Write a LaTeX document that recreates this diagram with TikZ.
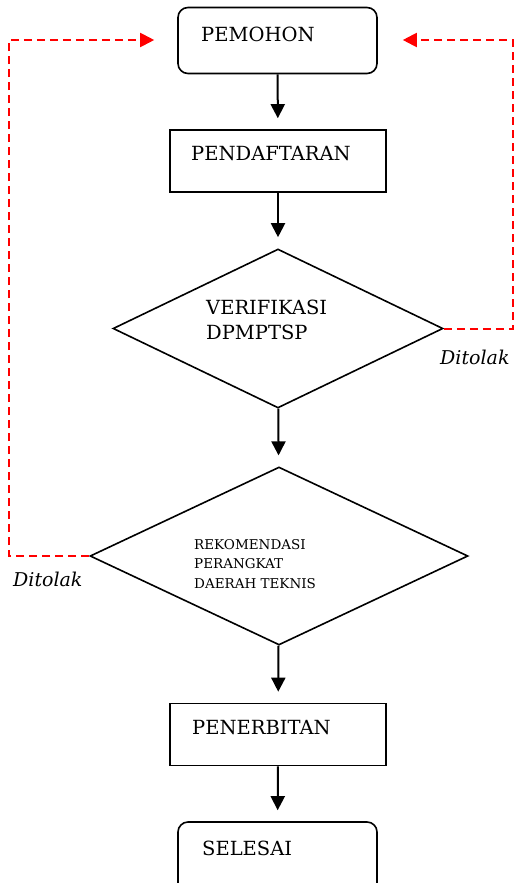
\documentclass[tikz,border=0pt]{standalone}
\usepackage{fontspec}
\setmainfont{DejaVu Serif}
\usepackage{tikz}
\usetikzlibrary{arrows.meta,shapes.geometric,positioning}
\usepackage{xcolor}
\definecolor{flowblack}{RGB}{0,0,0}
\definecolor{flowred}{RGB}{255,0,0}
\tikzstyle{arrow} = [line width=2pt,-{Triangle[length=14pt,width=14pt]},color=flowblack,shorten >=11pt]
\tikzstyle{tolak} = [line width=2pt,-{Triangle[length=14pt,width=14pt]},color=flowred,dash pattern=on 8pt off 5pt]
\tikzstyle{terminal} = [rectangle, rounded corners=10pt, minimum width=199pt, minimum height=66pt, draw=flowblack, line width=1.6pt, inner sep=0pt]
\tikzstyle{process} = [rectangle, minimum width=216pt, minimum height=62pt, draw=flowblack, line width=1.6pt, inner sep=0pt]
\tikzstyle{decision} = [diamond, inner sep=0pt, draw=flowblack, line width=1.6pt]
\tikzstyle{label} = [anchor=base west, inner sep=0pt, font=\fontsize{19.5}{23}\selectfont]
\tikzstyle{note} = [anchor=base west, inner sep=0pt, font=\fontsize{19}{22}\selectfont\itshape]

\begin{document}
\begin{tikzpicture}[x=1pt, y=-1pt]
    \useasboundingbox (0,0) rectangle (516,883);

    % Pemohon
    \node[terminal] (pemohon) at (277.5,40.5) {};
    \node[label] (pemohon-txt) at (201,42) {PEMOHON};

    % Pendaftaran
    \node[process] (daftar) at (278,161) {};
    \node[label] (daftar-txt) at (191,160.5) {PENDAFTARAN};

    % Verifikasi
    \node[decision, minimum width=330pt, minimum height=159pt] (verif) at (278,328.5) {};
    \node[label] (verif-txt1) at (206,314) {VERIFIKASI};
    \node[label] (verif-txt2) at (206,339) {DPMPTSP};

    % Rekomendasi
    \node[decision, minimum width=378pt, minimum height=178pt] (rekom) at (279,556) {};
    \node[label, font=\fontsize{13.5}{16}\selectfont] (rekom-txt1) at (194,549) {REKOMENDASI};
    \node[label, font=\fontsize{13.5}{16}\selectfont] (rekom-txt2) at (194,568) {PERANGKAT};
    \node[label, font=\fontsize{13.5}{16}\selectfont] (rekom-txt3) at (194,588) {DAERAH TEKNIS};

    % Penerbitan
    \node[process] (terbit) at (278,734.5) {};
    \node[label] (terbit-txt) at (192,734) {PENERBITAN};

    % Selesai
    \node[terminal, minimum height=72pt] (selesai) at (277.5,858) {};
    \node[label] (selesai-txt) at (202,855) {SELESAI};

    % Arrows
    \draw[arrow] (pemohon) -- (daftar);
    \draw[arrow] (daftar) -- (verif);
    \draw[arrow] (verif) -- (rekom);
    \draw[arrow] (rekom) -- (terbit);
    \draw[arrow] (terbit) -- (selesai);

    % Ditolak
    \coordinate (kiri) at (9,40);
    \coordinate (kanan) at (513,40);
    \draw[tolak, shorten >=23pt] (rekom.west) -| (kiri) -- (pemohon.west |- kiri);
    \draw[tolak, shorten >=25pt] (verif.east) -| (kanan) -- (pemohon.east |- kanan);
    \node[note] (tolak-kanan) at (440,364) {Ditolak};
    \node[note] (tolak-kiri) at (13,586) {Ditolak};
\end{tikzpicture}
\end{document}
